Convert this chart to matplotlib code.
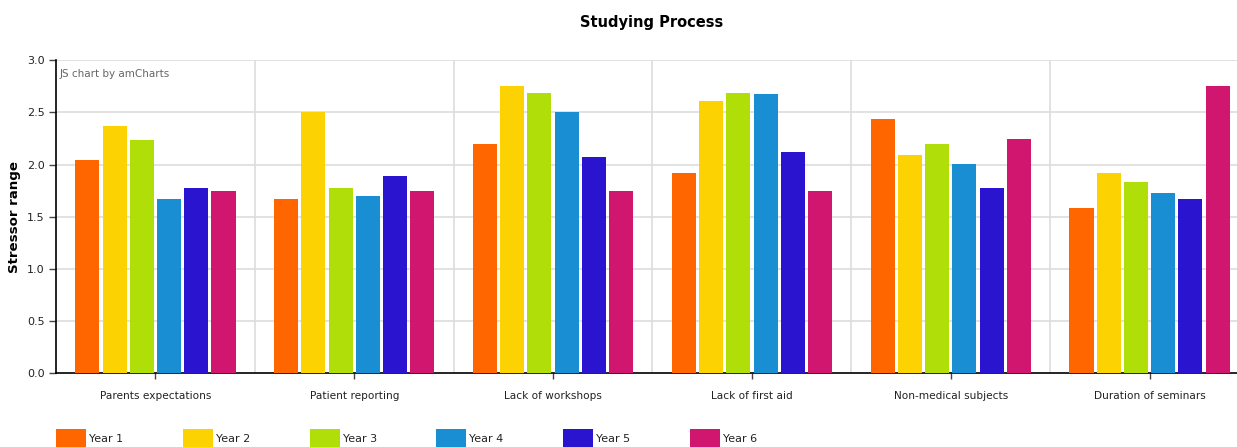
import matplotlib
matplotlib.use("Agg")
import matplotlib.pyplot as plt
from matplotlib.patches import Rectangle
import numpy as np

categories = ["Parents expectations", "Patient reporting", "Lack of workshops",
              "Lack of first aid", "Non-medical subjects", "Duration of seminars"]
series_names = ["Year 1", "Year 2", "Year 3", "Year 4", "Year 5", "Year 6"]
year1 = [2.04, 1.67, 2.20, 1.92, 2.44, 1.58]
year2 = [2.37, 2.50, 2.75, 2.61, 2.09, 1.92]
year3 = [2.24, 1.78, 2.69, 2.69, 2.20, 1.83]
year4 = [1.67, 1.70, 2.50, 2.68, 2.01, 1.73]
year5 = [1.78, 1.89, 2.07, 2.12, 1.78, 1.67]
year6 = [1.75, 1.75, 1.75, 1.75, 2.25, 2.75]
colors = ["#FF6600", "#FCD202", "#B0DE09", "#1A8ED2", "#2A14D0", "#D0166F"]
yticks = [0.0, 0.5, 1.0, 1.5, 2.0, 2.5, 3.0]

series = [year1, year2, year3, year4, year5, year6]

W, H = 1237, 447
plt.rcParams["font.family"] = ["DejaVu Sans"]
fig = plt.figure(figsize=(W / 100, H / 100), dpi=100)

# plot area in pixels; the last category runs past the right edge of the canvas
x0, x1 = 56, 1249
y_top, y_bot = 60.3, 373.3
ax = fig.add_axes([x0 / W, (H - y_bot) / H, (x1 - x0) / W, (y_bot - y_top) / H])

n = len(series)
pitch = 0.137
width = 0.121
x = np.arange(len(categories))
for i, (vals, col) in enumerate(zip(series, colors)):
    offs = (i - (n - 1) / 2) * pitch
    ax.bar(x + offs, vals, width=width, color=col, edgecolor="none", zorder=3)

ax.set_xlim(-0.5, len(categories) - 0.5)
ax.set_ylim(0, 3.0)
ax.set_yticks(yticks)
ax.set_yticklabels([f"{v:.1f}" for v in yticks], fontsize=8, color="#222222")
ax.set_xticks(x)
ax.set_xticklabels(categories, fontsize=7.6, color="#222222")
ax.tick_params(axis="x", length=4, width=1, color="#444444", pad=9)
ax.tick_params(axis="y", length=5, width=1, color="#444444", pad=3)

for yv in yticks[1:]:
    ax.axhline(yv, color="#dddddd", lw=1.2, zorder=1)
for xv in np.arange(0.5, len(categories) - 0.5, 1.0):
    ax.axvline(xv, color="#dddddd", lw=1.2, zorder=1)

for s in ["top", "right"]:
    ax.spines[s].set_visible(False)
for s in ["left", "bottom"]:
    ax.spines[s].set_color("#000000")
    ax.spines[s].set_linewidth(1.2)

fig.text((x0 + 4) / W, 1 - 74 / H, "JS chart by amCharts", fontsize=7.5,
         color="#666666", va="center", ha="left")

fig.text(15 / W, 1 - 217 / H, "Stressor range", rotation=90, ha="center",
         va="center", fontsize=9.6, fontweight="bold", color="#000000")

fig.text(652 / W, 1 - 22 / H, "Studying Process", ha="center", va="center",
         fontsize=10.5, fontweight="bold", color="#000000")

# legend row along the bottom edge
for i, (name, col) in enumerate(zip(series_names, colors)):
    lx = 56 + i * 126.8
    fig.patches.append(Rectangle((lx / W, 0), 30 / W, (H - 429) / H,
                                 transform=fig.transFigure, facecolor=col,
                                 edgecolor="none"))
    fig.text((lx + 33) / W, 1 - 439 / H, name, fontsize=8, color="#222222",
             ha="left", va="center")

fig.savefig("out.png", dpi=100)
